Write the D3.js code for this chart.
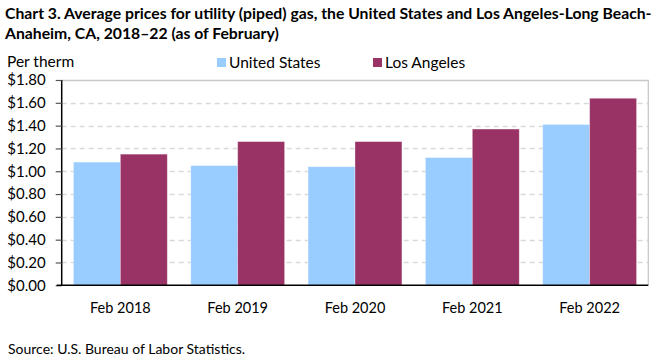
<!DOCTYPE html>
<html><head><meta charset="utf-8">
<script src="https://cdn.jsdelivr.net/npm/d3@7"></script>
<style>
body{margin:0;background:#fff;}
svg{display:block;font-family:Lato,"Open Sans",sans-serif;}
</style></head>
<body>
<svg id="chart" width="660" height="360"></svg>
<script>
const categories = ["Feb 2018","Feb 2019","Feb 2020","Feb 2021","Feb 2022"];
const seriesNames = ["United States","Los Angeles"];
const usValues = [1.08,1.05,1.04,1.12,1.41];
const laValues = [1.15,1.26,1.26,1.37,1.64];
const yTicks = [0,0.2,0.4,0.6,0.8,1.0,1.2,1.4,1.6,1.8];
const colors = ["#99ccff","#993366"];

const svg = d3.select("#chart");
const pL = 61.7, pR = 648.3, pT = 80, pB = 285.3;

const x0 = d3.scaleBand().domain(categories).range([pL,pR]).paddingInner(0.2).paddingOuter(0.1);
const x1 = d3.scaleBand().domain(seriesNames).range([0,x0.bandwidth()]);
const y = d3.scaleLinear().domain([0,1.8]).range([pB,pT]);

// title
const title = svg.append("text").attr("x",5).attr("font-weight","bold").attr("font-size",15.75).attr("fill","#000");
title.append("tspan").attr("x",5).attr("y",19).text("Chart 3. Average prices for utility (piped) gas, the United States and Los Angeles-Long Beach-");
title.append("tspan").attr("x",5).attr("y",39).text("Anaheim, CA, 2018\u201322 (as of February)");

svg.append("text").attr("x",7).attr("y",67).attr("font-size",15.5).attr("fill","#000").text("Per therm");

// gridlines
svg.append("g").selectAll("line").data(yTicks.filter(d=>d>0 && d<1.8)).join("line")
  .attr("x1",pL).attr("x2",pR).attr("y1",d=>Math.round(y(d))+0.5).attr("y2",d=>Math.round(y(d))+0.5)
  .attr("stroke","#d9d9d9").attr("stroke-width",1.3).attr("stroke-dasharray","5,4");
// top and right border
svg.append("path").attr("d",`M${pL},${Math.round(pT)+0.5}H${pR}V${pB}`).attr("fill","none").attr("stroke","#c8c8c8").attr("stroke-width",1.3);

// bars
const data = categories.map((c,i)=>({cat:c, vals:[usValues[i],laValues[i]]}));
const g = svg.append("g").selectAll("g").data(data).join("g").attr("transform",d=>`translate(${x0(d.cat)},0)`);
g.selectAll("rect").data(d=>d.vals.map((v,j)=>({name:seriesNames[j],v,j}))).join("rect")
  .attr("x",d=>x1(d.name)).attr("width",x1.bandwidth())
  .attr("y",d=>y(d.v)).attr("height",d=>pB-y(d.v))
  .attr("fill",d=>colors[d.j]).attr("stroke","#fff").attr("stroke-opacity",0.4).attr("stroke-width",0.8);

// y axis
const yAxis = d3.axisLeft(y).tickValues(yTicks).tickSize(6).tickFormat(d=>"$"+d3.format(".2f")(d));
const ya = svg.append("g").attr("transform",`translate(${pL},0)`).call(yAxis);
ya.select(".domain").attr("stroke","#000").attr("stroke-width",1.5).attr("d",`M0,${pT}V${pB}`);
ya.selectAll(".tick line").attr("stroke","#555").attr("stroke-width",1.2);
ya.selectAll(".tick text").attr("font-family","Lato, sans-serif").attr("font-size",15).attr("fill","#000").attr("x",-16);

// x axis
const xAxis = d3.axisBottom(x0).tickSize(0).tickPadding(17);
const xa = svg.append("g").attr("transform",`translate(0,${pB})`).call(xAxis);
xa.select(".domain").attr("stroke","#000").attr("stroke-width",1.5).attr("d",`M${pL-5},0H${pR}`);
xa.selectAll(".tick text").attr("font-family","Lato, sans-serif").attr("font-size",14.5).attr("fill","#000");

// legend
const leg = svg.append("g").selectAll("g").data(seriesNames).join("g")
  .attr("transform",(d,i)=>`translate(${[217,373][i]},58)`);
leg.append("rect").attr("width",9).attr("height",9).attr("fill",(d,i)=>colors[i]);
leg.append("text").attr("x",12).attr("y",10).attr("font-size",15.5).attr("fill","#000").text(d=>d);

svg.append("text").attr("x",8).attr("y",354).attr("font-size",14).attr("fill","#000").text("Source: U.S. Bureau of Labor Statistics.");
</script>
</body></html>
